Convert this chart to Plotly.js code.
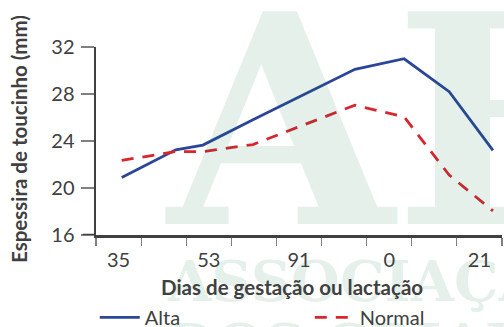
<!DOCTYPE html>
<html>
<head>
<meta charset="utf-8">
<script src="https://cdn.plot.ly/plotly-3.0.1.min.js"></script>
<style>html,body{margin:0;padding:0;background:#fff;}#chart{width:504px;height:327px;}</style>
</head>
<body>
<div id="chart"></div>
<script>
// Category labels (shown every other slot) and slot positions
const slotTicks = [0, 1, 2, 3, 4, 5, 6, 7, 8, 9];
const labelPositions = [0.5, 2.5, 4.5, 6.5, 8.5];
const tickLabels = ['35', '53', '91', '0', '21'];

// Measurement positions along the slot axis
const positions = [0.57, 1.77, 2.37, 3.48, 5.74, 6.83, 7.83, 8.80];
// Series values (mm)
const alta = [20.9, 23.25, 23.65, 25.8, 30.1, 31.0, 28.2, 23.2];
const normal = [22.35, 23.1, 23.1, 23.7, 27.05, 26.05, 21.1, 18.05];

const yTicks = [16, 20, 24, 28, 32];

const textColor = '#404040';
const wm = 'rgba(0,110,60,0.10)';
const font = 'Lato, "Open Sans", sans-serif';

const traces = [
  {
    x: positions, y: alta, type: 'scatter', mode: 'lines', name: 'Alta',
    line: {color: '#2B4699', width: 2.8},
    xaxis: 'x', yaxis: 'y', cliponaxis: false
  },
  {
    x: positions, y: normal, type: 'scatter', mode: 'lines', name: 'Normal',
    line: {color: '#D9252E', width: 2.8, dash: '12px,9px'},
    xaxis: 'x2', yaxis: 'y', cliponaxis: false
  }
];

const layout = {
  width: 504, height: 327,
  margin: {l: 96, r: 2, t: 47, b: 92, autoexpand: false},
  paper_bgcolor: '#fff', plot_bgcolor: 'rgba(0,0,0,0)',
  font: {family: font, color: textColor},
  showlegend: true,
  legend: {
    orientation: 'h', x: -0.003, xanchor: 'left', y: -0.334, yanchor: 'top',
    font: {family: font, size: 20, color: textColor},
    entrywidth: 160, entrywidthmode: 'pixels', itemwidth: 40,
    bgcolor: 'rgba(0,0,0,0)'
  },
  xaxis: {
    range: [0, 9], tickmode: 'array', tickvals: slotTicks, showticklabels: false,
    ticks: 'outside', ticklen: 8, tickcolor: '#808080', tickwidth: 1.2,
    showline: true, linecolor: textColor, linewidth: 2.5,
    showgrid: false, zeroline: false, fixedrange: true
  },
  xaxis2: {
    overlaying: 'x', anchor: 'y', side: 'bottom',
    range: [0, 9], tickmode: 'array', tickvals: labelPositions, ticktext: tickLabels,
    ticks: '', showline: false, showgrid: false, zeroline: false,
    tickfont: {family: font, size: 20, color: textColor}, ticklabelstandoff: 11
  },
  yaxis: {
    range: [16, 32], tickmode: 'array', tickvals: yTicks,
    ticks: 'outside', ticklen: 13, tickcolor: '#808080', tickwidth: 1.2,
    showline: true, linecolor: textColor, linewidth: 2.5,
    showgrid: false, zeroline: false,
    tickfont: {family: font, size: 20, color: textColor}, ticklabelstandoff: 2
  },
  shapes: [
    {type: 'line', xref: 'paper', yref: 'y', x0: -0.033, x1: 0, y0: 16, y1: 16,
     line: {color: textColor, width: 2.5}}
  ],
  annotations: [
    {text: 'ABCS', xref: 'paper', yref: 'paper', x: 0.16, y: 0.606, xanchor: 'left', yanchor: 'middle',
     showarrow: false, font: {family: '"DejaVu Serif"', size: 292, color: wm, weight: 'bold'}},
    {text: 'ASSOCIAÇÃO BRASILEIRA', xref: 'paper', yref: 'paper', x: 0.17, y: -0.245, xanchor: 'left', yanchor: 'middle',
     showarrow: false, font: {family: '"DejaVu Serif"', size: 56, color: wm, weight: 'bold'}},
    {text: 'DOS CRIADORES DE SUÍNOS', xref: 'paper', yref: 'paper', x: 0.17, y: -0.58, xanchor: 'left', yanchor: 'middle',
     showarrow: false, font: {family: '"DejaVu Serif"', size: 56, color: wm, weight: 'bold'}},
    {text: '<b>Dias de gestação ou lactação</b>', xref: 'paper', yref: 'paper', x: 0.483, y: -0.276,
     xanchor: 'center', yanchor: 'middle', showarrow: false,
     font: {family: font, size: 20.5, color: textColor}},
    {text: '<b>Espessira de toucinho (mm)</b>', xref: 'paper', yref: 'paper', x: -0.191, y: 0.513,
     xanchor: 'center', yanchor: 'middle', textangle: -90, showarrow: false,
     font: {family: font, size: 20.5, color: textColor}}
  ]
};

Plotly.newPlot('chart', traces, layout, {displayModeBar: false, staticPlot: true});
</script>
</body>
</html>
